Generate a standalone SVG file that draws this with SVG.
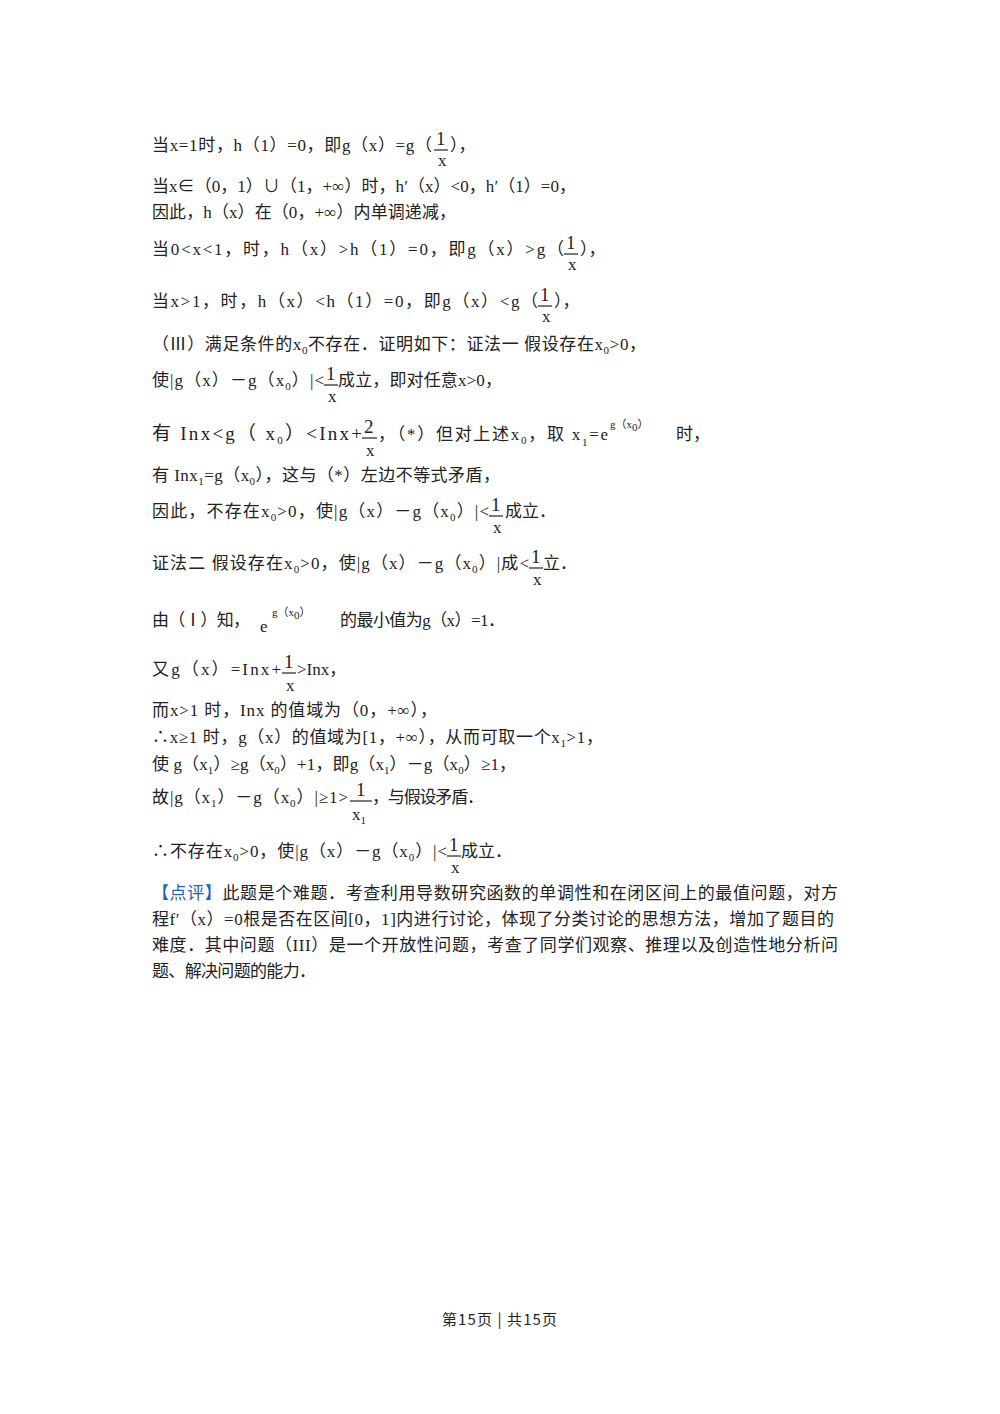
<svg xmlns="http://www.w3.org/2000/svg" width="1000" height="1414" viewBox="0 0 1000 1414">
<style>
text{font-family:"Liberation Serif","Noto Sans CJK SC",serif;font-size:17px;fill:#222}
.s{font-size:11px}
.f{font-size:19px}
.l{font-size:19px}
.b{stroke:#222;stroke-width:1.2}
.blue{fill:#1f5fbf}
</style>
<rect width="1000" height="1414" fill="#fff"/>
<g id="text">
<text x="152" y="151" textLength="280">当x=1时，h（1）=0，即g（x）=g（</text>
<text x="436" y="145" class="f">1</text><line class="b" x1="434" y1="150" x2="448" y2="150"/><text x="438" y="166">x</text>
<text x="450" y="151">），</text>

<text x="152" y="192" textLength="424">当x∈（0，1）∪（1，+∞）时，h′（x）&lt;0，h′（1）=0，</text>
<text x="152" y="218" textLength="304">因此，h（x）在（0，+∞）内单调递减，</text>

<text x="152" y="255" textLength="412">当0&lt;x&lt;1，时，h（x）&gt;h（1）=0，即g（x）&gt;g（</text>
<text x="566" y="249" class="f">1</text><line class="b" x1="564" y1="254" x2="578" y2="254"/><text x="568" y="270">x</text>
<text x="580" y="255">），</text>

<text x="152" y="307" textLength="386">当x&gt;1，时，h（x）&lt;h（1）=0，即g（x）&lt;g（</text>
<text x="540" y="301" class="f">1</text><line class="b" x1="538" y1="306" x2="552" y2="306"/><text x="542" y="322">x</text>
<text x="554" y="307">），</text>

<text x="152" y="350" textLength="494">（Ⅲ）满足条件的x<tspan class="s" dy="4">0</tspan><tspan dy="-4">不存在．证明如下：证法一 假设存在x</tspan><tspan class="s" dy="4">0</tspan><tspan dy="-4">&gt;0，</tspan></text>

<text x="152" y="386" textLength="172">使|g（x）－g（x<tspan class="s" dy="4">0</tspan><tspan dy="-4">）|&lt;</tspan></text>
<text x="326" y="380" class="f">1</text><line class="b" x1="324" y1="385" x2="338" y2="385"/><text x="328" y="402">x</text>
<text x="338" y="386" textLength="164">成立，即对任意x&gt;0，</text>

<text x="152" y="440" class="l" textLength="210">有 Inx&lt;g（ x<tspan class="s" dy="4">0</tspan><tspan dy="-4">）&lt;Inx+</tspan></text>
<text x="364" y="433" class="f">2</text><line class="b" x1="362" y1="438" x2="377" y2="438"/><text x="366" y="456">x</text>
<text x="378" y="440" textLength="230">，（*）但对上述x<tspan class="s" dy="4">0</tspan><tspan dy="-4">，取 x</tspan><tspan class="s" dy="6">1</tspan><tspan dy="-6">=e</tspan></text>
<text x="610" y="428" class="s">g（x<tspan dy="3">0</tspan><tspan dy="-3">）</tspan></text>
<text x="676" y="440">时，</text>

<text x="152" y="481" textLength="348">有 Inx<tspan class="s" dy="4">1</tspan><tspan dy="-4">=g（x</tspan><tspan class="s" dy="4">0</tspan><tspan dy="-4">），这与（*）左边不等式矛盾，</tspan></text>

<text x="152" y="517" textLength="337">因此，不存在x<tspan class="s" dy="4">0</tspan><tspan dy="-4">&gt;0，使|g（x）－g（x</tspan><tspan class="s" dy="4">0</tspan><tspan dy="-4">）|&lt;</tspan></text>
<text x="491" y="511" class="f">1</text><line class="b" x1="489" y1="516" x2="503" y2="516"/><text x="493" y="533">x</text>
<text x="505" y="517">成立．</text>

<text x="152" y="569" textLength="377">证法二 假设存在x<tspan class="s" dy="4">0</tspan><tspan dy="-4">&gt;0，使|g（x）－g（x</tspan><tspan class="s" dy="4">0</tspan><tspan dy="-4">）|成&lt;</tspan></text>
<text x="531" y="563" class="f">1</text><line class="b" x1="529" y1="568" x2="543" y2="568"/><text x="533" y="585">x</text>
<text x="543" y="569">立．</text>

<text x="152" y="626" textLength="98">由（Ⅰ）知，</text>
<text x="260" y="632">e</text>
<text x="272" y="616" class="s">g（x<tspan dy="3">0</tspan><tspan dy="-3">）</tspan></text>
<text x="340" y="626" textLength="165">的最小值为g（x）=1．</text>

<text x="152" y="675" textLength="129">又g（x）=Inx+</text>
<text x="284" y="668" class="f">1</text><line class="b" x1="282" y1="673" x2="296" y2="673"/><text x="286" y="691">x</text>
<text x="297" y="675">&gt;Inx，</text>

<text x="152" y="716" textLength="285">而x&gt;1 时，Inx 的值域为（0，+∞），</text>
<text x="152" y="743" textLength="451">∴x≥1 时，g（x）的值域为[1，+∞），从而可取一个x<tspan class="s" dy="4">1</tspan><tspan dy="-4">&gt;1，</tspan></text>
<text x="152" y="770" textLength="364">使 g（x<tspan class="s" dy="4">1</tspan><tspan dy="-4">）≥g（x</tspan><tspan class="s" dy="4">0</tspan><tspan dy="-4">）+1，即g（x</tspan><tspan class="s" dy="4">1</tspan><tspan dy="-4">）－g（x</tspan><tspan class="s" dy="4">0</tspan><tspan dy="-4">）≥1，</tspan></text>

<text x="152" y="803" textLength="196">故|g（x<tspan class="s" dy="4">1</tspan><tspan dy="-4">）－g（x</tspan><tspan class="s" dy="4">0</tspan><tspan dy="-4">）|≥1&gt;</tspan></text>
<text x="356" y="796" class="f">1</text><line class="b" x1="350" y1="801" x2="372" y2="801"/><text x="352" y="820">x<tspan class="s" dy="4">1</tspan></text>
<text x="372" y="803" textLength="112">，与假设矛盾．</text>

<text x="152" y="857" textLength="295">∴不存在x<tspan class="s" dy="4">0</tspan><tspan dy="-4">&gt;0，使|g（x）－g（x</tspan><tspan class="s" dy="4">0</tspan><tspan dy="-4">）|&lt;</tspan></text>
<text x="449" y="851" class="f">1</text><line class="b" x1="447" y1="856" x2="461" y2="856"/><text x="451" y="873">x</text>
<text x="461" y="857">成立．</text>

<text x="152" y="899" textLength="686"><tspan class="blue">【点评】</tspan>此题是个难题．考查利用导数研究函数的单调性和在闭区间上的最值问题，对方</text>
<text x="152" y="925" textLength="682">程f′（x）=0根是否在区间[0，1]内进行讨论，体现了分类讨论的思想方法，增加了题目的</text>
<text x="152" y="951" textLength="686">难度．其中问题（III）是一个开放性问题，考查了同学们观察、推理以及创造性地分析问</text>
<text x="152" y="977" textLength="164">题、解决问题的能力．</text>

<text x="442" y="1325" textLength="115" style="font-family:'Noto Sans CJK SC',sans-serif;font-size:15px">第15页 | 共15页</text>
</g>
</svg>
